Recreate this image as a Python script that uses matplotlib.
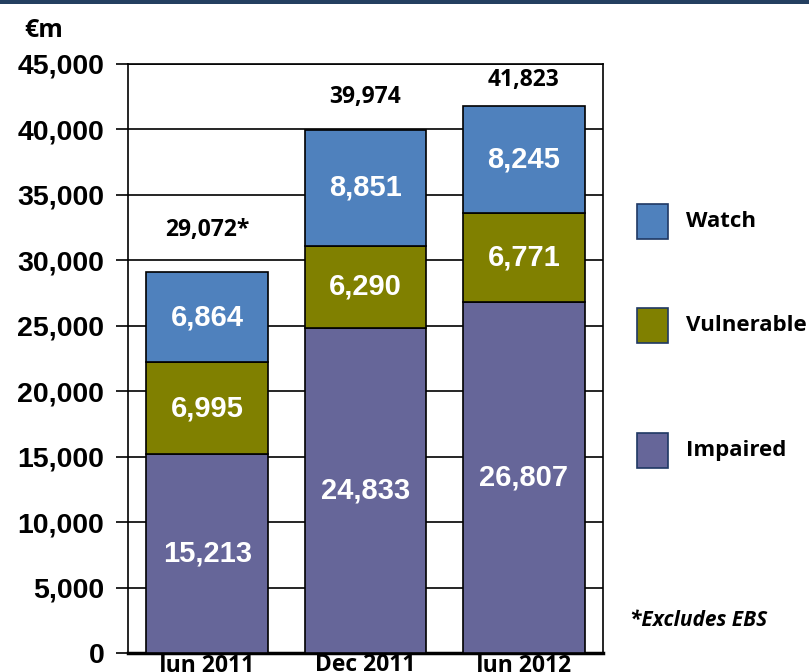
#stacked bars for loan quality (Watch / Vulnerable / Impaired)
from matplotlib import pyplot as plt
from matplotlib.patches import Rectangle
import numpy as np

categories = ['Jun 2011', 'Dec 2011', 'Jun 2012']
impaired = [15213, 24833, 26807]
vulnerable = [6995, 6290, 6771]
watch = [6864, 8851, 8245]
totals = ['29,072*', '39,974', '41,823']
yticks = [0, 5000, 10000, 15000, 20000, 25000, 30000, 35000, 40000, 45000]

col_watch = '#4F81BD'
col_vuln = '#808000'
col_imp = '#666699'
cal = 'Open Sans'

fig = plt.figure(figsize=(8.09, 6.72), dpi=100)
ax = fig.add_axes([0.1582, 0.0283, 0.5871, 0.8765])

x = np.arange(len(categories))
w = 0.77
imp = np.array(impaired)
vul = np.array(vulnerable)
wat = np.array(watch)

ax.bar(x, imp, w, color=col_imp, edgecolor='black', linewidth=1.2, zorder=3)
ax.bar(x, vul, w, bottom=imp, color=col_vuln, edgecolor='black', linewidth=1.2, zorder=3)
ax.bar(x, wat, w, bottom=imp + vul, color=col_watch, edgecolor='black', linewidth=1.2, zorder=3)

lab_font = dict(color='white', fontsize=21, fontweight='bold',
                family='Liberation Sans', ha='center', va='center', zorder=4)
for i in range(len(x)):
    ax.text(x[i], imp[i] / 2, f'{imp[i]:,}', **lab_font)
    ax.text(x[i], imp[i] + vul[i] / 2, f'{vul[i]:,}', **lab_font)
    ax.text(x[i], imp[i] + vul[i] + wat[i] / 2, f'{wat[i]:,}', **lab_font)

#etichette dei totali sopra le barre
offsets = [3250, 2500, 1950]
tot = imp + vul + wat
for i in range(len(x)):
    ax.text(x[i], tot[i] + offsets[i], totals[i], ha='center', va='center',
            fontsize=16.5, fontweight='bold', family=cal, color='black')

ax.set_xlim(-0.5, 2.5)
ax.set_ylim(0, 45000)
ax.set_yticks(yticks)
ax.set_yticklabels([f'{t:,}' for t in yticks], fontsize=20.5, fontweight='bold',
                   family='Liberation Sans')
ax.set_xticks(x)
ax.set_xticklabels(categories, fontsize=16.5, fontweight='bold', family=cal)
ax.tick_params(axis='y', length=9, width=1.2, pad=8, right=False)
ax.tick_params(axis='x', length=0, pad=0)
ax.yaxis.grid(True, color='black', linewidth=1.2, zorder=0)
ax.set_axisbelow(True)
for s in ['left', 'right', 'top']:
    ax.spines[s].set_linewidth(1.2)
ax.spines['bottom'].set_linewidth(2.5)

#legenda a destra
leg = [(col_watch, 'Watch', 0.670), (col_vuln, 'Vulnerable', 0.516), (col_imp, 'Impaired', 0.330)]
for c, t, yy in leg:
    fig.patches.append(Rectangle((0.788, yy - 0.026), 0.038, 0.052, transform=fig.transFigure,
                                 facecolor=c, edgecolor='#1F3864', linewidth=1.2))
    fig.text(0.848, yy, t, fontsize=16, fontweight='bold', family=cal, va='center')

fig.text(0.03, 0.955, '€m', fontsize=18, fontweight='bold', family=cal, va='center')
fig.text(0.948, 0.077, '*Excludes EBS', fontsize=15, fontweight='bold', fontstyle='italic',
         family=cal, ha='right', va='center')

#barra blu in alto
fig.patches.append(Rectangle((0, 0.994), 1, 0.006, transform=fig.transFigure,
                             facecolor='#243F60', edgecolor='none'))

plt.savefig('out.png', dpi=100)
plt.close()
